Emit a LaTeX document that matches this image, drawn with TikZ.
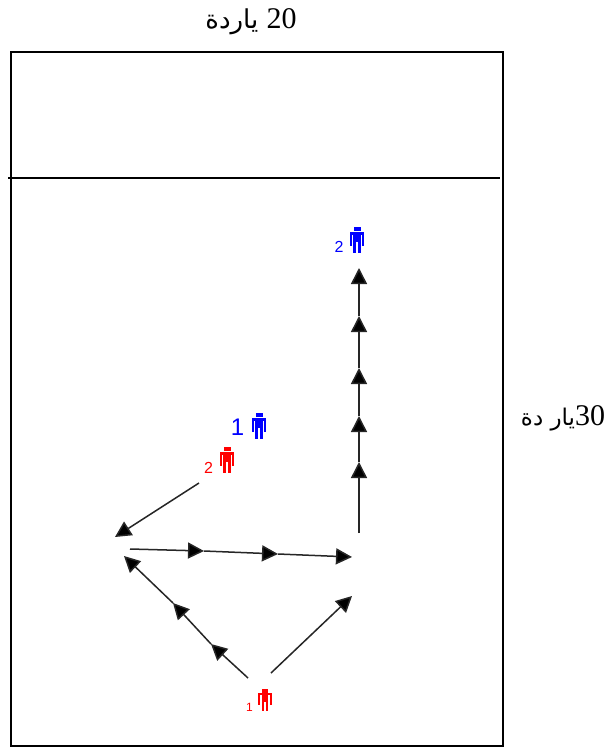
\documentclass[tikz,border=0pt]{standalone}
\usepackage{fontspec}
\setmainfont{Liberation Serif}
\setsansfont{Liberation Sans}
\newfontfamily\arabicfont[Script=Arabic]{DejaVu Sans}
\TeXXeTstate=1
\usetikzlibrary{arrows.meta}
\definecolor{pred}{RGB}{255,0,0}
\definecolor{pblue}{RGB}{0,0,255}
\tikzset{
  fieldline/.style={draw=black,line width=1.1pt},
  moveline/.style={draw=black!85,line width=1.5pt,-{Triangle[length=16pt,width=16pt,fill=black]}},
  caption/.style={inner sep=0pt,text=black},
  num/.style={inner sep=0pt,font=\sffamily},
  pics/player/.style={code={
    \fill[#1] (-3.5,-13) rectangle (3.5,-9);
    \fill[#1] (-7.3,-8) rectangle (7.3,-5.5);
    \fill[#1] (-7.3,-8) rectangle (-5,5.7);
    \fill[#1] (5,-8) rectangle (7.3,5.7);
    \fill[#1] (-3.6,-8) rectangle (3.6,2);
    \fill[#1] (-3.6,0) rectangle (-0.8,13);
    \fill[#1] (0.8,0) rectangle (3.6,13);
  }}
}
\begin{document}
\begin{tikzpicture}[x=1pt,y=-1pt]
\useasboundingbox (0,0) rectangle (607,749);
\fill[white] (0,0) rectangle (607,749);
\draw[fieldline] (11,52) rectangle (503,746);
\coordinate (hl) at (8,178);
\coordinate (hr) at (500,178);
\draw[fieldline] (hl) -- (hr);
\node[caption,font=\fontsize{26}{28}\selectfont] (top) at (251,22) {\arabicfont\beginR\beginL{\rmfamily\fontsize{30}{30}\selectfont 20}\endL{} ياردة\endR};
\node[caption,font=\fontsize{23}{26}\selectfont] (side) at (563,418) {\arabicfont\beginR\beginL{\rmfamily\fontsize{30}{30}\selectfont 30}\endL{}يار دة\endR};

\pic at (259,426) {player=pblue};
\pic at (227,460) {player=pred};
\pic at (357,240) {player=pblue};
\pic[xscale=0.95,yscale=0.82] at (265,700) {player=pred};
\node[num,text=pblue,font=\sffamily\fontsize{24}{24}\selectfont] (nb1) at (237.5,427) {1};
\node[num,text=pred,font=\sffamily\fontsize{16}{16}\selectfont] (nr2) at (208.5,467.5) {2};
\node[num,text=pblue,font=\sffamily\fontsize{16}{16}\selectfont] (nb2) at (339,247) {2};
\node[num,text=pred,font=\sffamily\fontsize{12}{12}\selectfont] (nr1) at (249.5,707) {1};

% red 2 pass
\coordinate (a0) at (199,483);
\coordinate (a1) at (115,537);
\draw[moveline] (a0) -- (a1);
% horizontal run
\coordinate (b0) at (130,549);
\coordinate (b1) at (204,551);
\coordinate (b2) at (278,554);
\coordinate (b3) at (352,557);
\draw[moveline] (b0) -- (b1);
\draw[moveline] (b1) -- (b2);
\draw[moveline] (b2) -- (b3);
% diagonal run
\coordinate (c0) at (248,678);
\coordinate (c1) at (211,644);
\coordinate (c2) at (173,603);
\coordinate (c3) at (124,556);
\draw[moveline] (c0) -- (c1);
\draw[moveline] (c1) -- (c2);
\draw[moveline] (c2) -- (c3);
% short diagonal
\coordinate (d0) at (271,673);
\coordinate (d1) at (352,596);
\draw[moveline] (d0) -- (d1);
% vertical run
\coordinate (e0) at (359,533);
\coordinate (e1) at (359,462);
\coordinate (e2) at (359,416);
\coordinate (e3) at (359,368);
\coordinate (e4) at (359,316);
\coordinate (e5) at (359,268);
\draw[moveline] (e0) -- (e1);
\draw[moveline] (e1) -- (e2);
\draw[moveline] (e2) -- (e3);
\draw[moveline] (e3) -- (e4);
\draw[moveline] (e4) -- (e5);
\end{tikzpicture}
\end{document}
